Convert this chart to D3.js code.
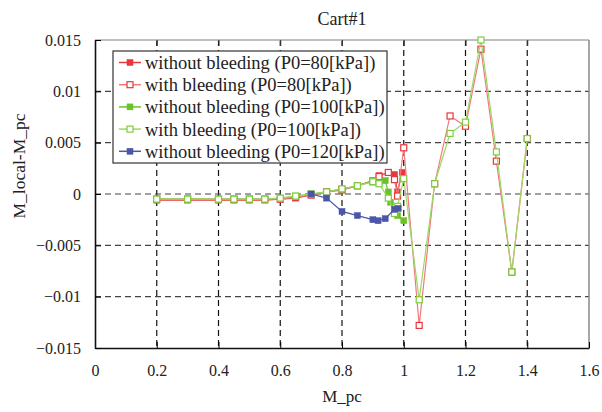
<!DOCTYPE html>
<meta charset="utf-8">
<html>
<head>
<script src="https://d3js.org/d3.v7.min.js"></script>
<style>
  body { margin: 0; background: #fff; }
  svg text { font-family: "Liberation Serif", "Times New Roman", Times, serif; fill: #222; }
</style>
</head>
<body>
<div id="plotArea"></div>
<script>
  // data
  const xLow = [0.2, 0.3, 0.4, 0.45, 0.5, 0.55, 0.6, 0.65, 0.7, 0.75, 0.8, 0.85, 0.9]

  const noBleed80X = xLow.concat([0.92, 0.95, 0.97, 0.98, 0.995])
  const noBleed80Y = [-0.0006, -0.0006, -0.0006, -0.0006, -0.0006, -0.0006, -0.0005, -0.0004, -0.0001, 0.0002, 0.0004, 0.0008, 0.0013,
                      0.0018, 0.0021, 0.0019, 0.0002, 0.0021]

  const bleed80X = xLow.concat([0.92, 0.95, 0.97, 0.98, 1.0, 1.05, 1.1, 1.15, 1.2, 1.25, 1.3, 1.35, 1.4])
  const bleed80Y = [-0.0005, -0.0005, -0.0005, -0.0005, -0.0005, -0.0005, -0.0005, -0.0003, -0.0001, 0.0002, 0.0004, 0.0008, 0.0012,
                    0.0017, 0.0021, 0.0014, -0.0002, 0.0045, -0.0128, 0.0010, 0.0076, 0.0066, 0.0141, 0.0032, -0.0076, 0.0054]

  const noBleed100X = xLow.concat([0.92, 0.94, 0.95, 0.957, 0.98, 1.0])
  const noBleed100Y = [-0.0005, -0.0005, -0.0005, -0.0005, -0.0005, -0.0005, -0.0004, -0.0002, 0.0000, 0.0002, 0.0005, 0.0008, 0.0013,
                       0.0011, 0.0013, 0.0002, -0.0008, -0.0021, -0.0026]

  const bleed100X = xLow.concat([0.92, 0.95, 0.97, 0.98, 1.0, 1.05, 1.1, 1.15, 1.2, 1.25, 1.3, 1.35, 1.4])
  const bleed100Y = [-0.0005, -0.0005, -0.0005, -0.0005, -0.0005, -0.0005, -0.0004, -0.0002, 0.0000, 0.0002, 0.0005, 0.0008, 0.0012,
                     0.0010, -0.0004, -0.0019, -0.0012, 0.0015, -0.0103, 0.0010, 0.0059, 0.0070, 0.0150, 0.0041, -0.0076, 0.0054]

  const noBleed120X = [0.7, 0.75, 0.8, 0.85, 0.9, 0.917, 0.94, 0.97, 0.982]
  const noBleed120Y = [0.0000, -0.0004, -0.0017, -0.0021, -0.0025, -0.0026, -0.0024, -0.0015, -0.0014]

  const xTicks = [0, 0.2, 0.4, 0.6, 0.8, 1, 1.2, 1.4, 1.6]
  const yTicks = [-0.015, -0.01, -0.005, 0, 0.005, 0.01, 0.015]

  const series = [
    {name: 'without bleeding (P0=80[kPa])', x: noBleed80X, y: noBleed80Y, color: '#e8363b', line: '#e8363b', filled: true},
    {name: 'with bleeding (P0=80[kPa])', x: bleed80X, y: bleed80Y, color: '#e8363b', line: '#f07a7d', filled: false},
    {name: 'without bleeding (P0=100[kPa])', x: noBleed100X, y: noBleed100Y, color: '#6cc12a', line: '#6cc12a', filled: true},
    {name: 'with bleeding (P0=100[kPa])', x: bleed100X, y: bleed100Y, color: '#7fcc3c', line: '#9bd863', filled: false},
    {name: 'without bleeding (P0=120[kPa])', x: noBleed120X, y: noBleed120Y, color: '#4b56a8', line: '#4b56a8', filled: true}
  ]

  const W = 602, H = 412
  const margin = {top: 40, right: 13, bottom: 64, left: 95}
  const width = W - margin.left - margin.right,
        height = H - margin.top - margin.bottom

  const svg = d3.select('#plotArea').append('svg')
      .attr('width', W).attr('height', H)
  const g = svg.append('g').attr('transform', `translate(${margin.left},${margin.top})`)

  const xScale = d3.scaleLinear().domain([0, 1.6]).range([0, width])
  const yScale = d3.scaleLinear().domain([-0.015, 0.015]).range([height, 0])

  // dashed grid
  g.append('g').selectAll('line').data(xTicks.slice(1, -1)).enter().append('line')
    .attr('x1', d => xScale(d)).attr('x2', d => xScale(d))
    .attr('y1', 0).attr('y2', height)
    .attr('stroke', '#111').attr('stroke-width', 1.2).attr('stroke-dasharray', '6,4')
  g.append('g').selectAll('line').data(yTicks.slice(1, -1)).enter().append('line')
    .attr('y1', d => yScale(d)).attr('y2', d => yScale(d))
    .attr('x1', 0).attr('x2', width)
    .attr('stroke', '#444').attr('stroke-width', 1.2).attr('stroke-dasharray', '6,4')

  // frame
  g.append('line').attr('x1', 0).attr('x2', width).attr('y1', 0).attr('y2', 0).attr('stroke', '#aaa').attr('stroke-width', 1.5)
  g.append('line').attr('x1', width).attr('x2', width).attr('y1', 0).attr('y2', height).attr('stroke', '#888').attr('stroke-width', 1.5)

  const xAxis = g.append('g').attr('transform', `translate(0,${height})`)
    .call(d3.axisBottom(xScale).tickValues(xTicks).tickSizeInner(-6).tickSizeOuter(0).tickPadding(17).tickFormat(d3.format('')))
  const xAxisTop = g.append('g')
    .call(d3.axisTop(xScale).tickValues(xTicks.slice(1, -1)).tickSizeInner(-6).tickSizeOuter(0).tickFormat(''))
  const yAxis = g.append('g')
    .call(d3.axisLeft(yScale).tickValues(yTicks).tickSizeInner(-6).tickSizeOuter(0).tickPadding(14).tickFormat(d3.format('')))
  xAxisTop.select('.domain').remove()
  xAxisTop.selectAll('line').attr('stroke', '#333')
  ;[xAxis, yAxis].forEach(a => {
    a.attr('font-family', null)
    a.select('.domain').attr('stroke', '#111').attr('stroke-width', 1.6)
    a.selectAll('text').style('font-size', '16px').attr('fill', '#222')
  })

  // lines and markers
  const line = d3.line().x(d => xScale(d[0])).y(d => yScale(d[1]))
  series.forEach(s => {
    const pts = d3.zip(s.x, s.y)
    g.append('path').datum(pts).attr('d', line)
      .attr('fill', 'none').attr('stroke', s.line).attr('stroke-width', 1.2)
    g.append('g').selectAll('rect').data(pts).enter().append('rect')
      .attr('x', d => xScale(d[0]) - 3).attr('y', d => yScale(d[1]) - 3)
      .attr('width', 6).attr('height', 6)
      .attr('fill', s.filled ? s.color : '#fff')
      .attr('stroke', s.color).attr('stroke-width', s.filled ? 0.5 : 1.2)
  })

  // legend
  const lg = svg.append('g').attr('transform', 'translate(113,51)')
  lg.append('rect').attr('width', 274).attr('height', 112)
    .attr('fill', '#fff').attr('stroke', '#333').attr('stroke-width', 1.2)
  series.forEach((s, i) => {
    const yy = 11.5 + i * 22.2
    lg.append('line').attr('x1', 6).attr('x2', 28).attr('y1', yy).attr('y2', yy)
      .attr('stroke', s.line).attr('stroke-width', 1.5)
    lg.append('rect').attr('x', 14).attr('y', yy - 3).attr('width', 6).attr('height', 6)
      .attr('fill', s.filled ? s.color : '#fff').attr('stroke', s.color).attr('stroke-width', s.filled ? 0.5 : 1.2)
    lg.append('text').attr('x', 32).attr('y', yy).attr('dy', '0.35em')
      .style('font-size', '18.5px').text(s.name)
  })

  // titles
  svg.append('text').attr('x', 342).attr('y', 25).attr('text-anchor', 'middle')
    .style('font-size', '18px').text('Cart#1')
  svg.append('text').attr('x', 342).attr('y', 402).attr('text-anchor', 'middle')
    .style('font-size', '17px').text('M_pc')
  svg.append('text').attr('transform', 'translate(25,166) rotate(-90)').attr('text-anchor', 'middle')
    .style('font-size', '17.5px').text('M_local-M_pc')
</script>
</body>
</html>
